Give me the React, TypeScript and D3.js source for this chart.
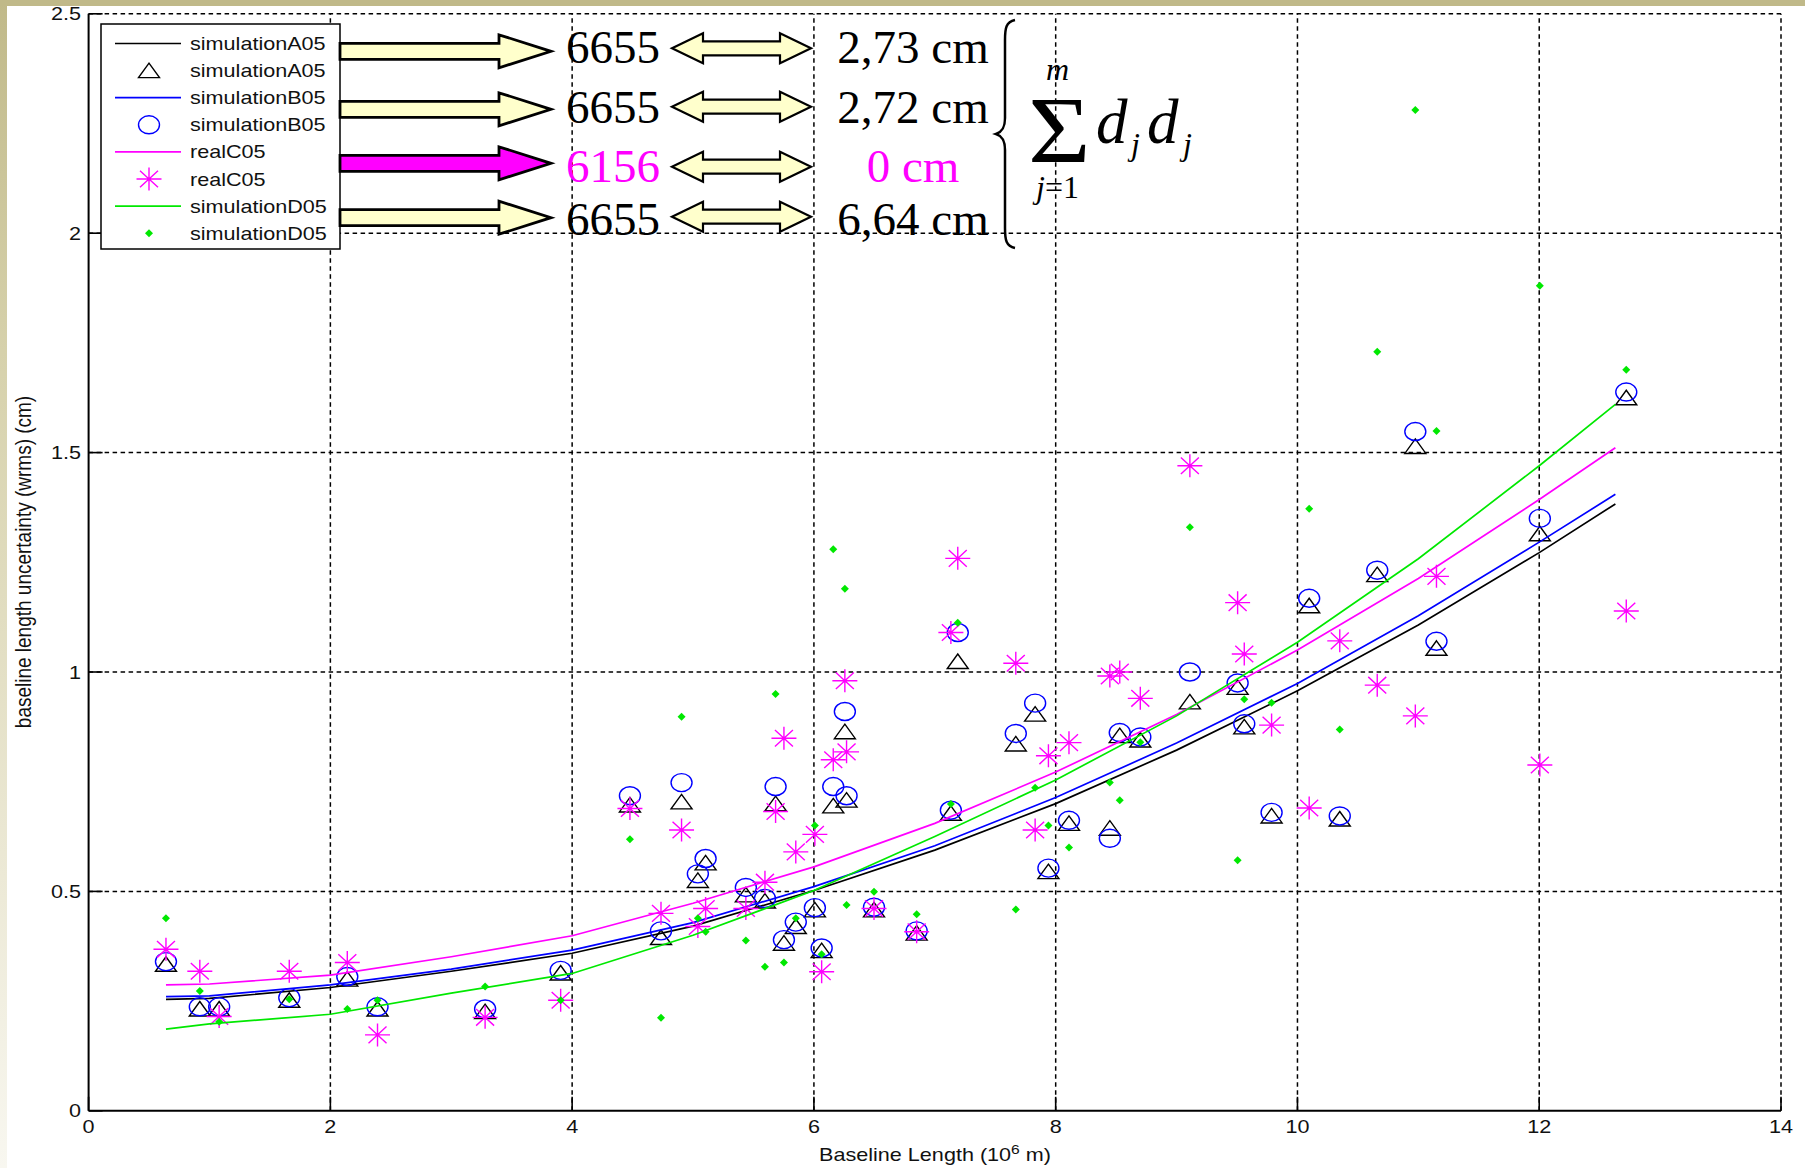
import React from "react";
import * as d3 from "d3";

// baseline lengths (10^6 m), one per station pair
const baselineX = [
  0.64, 0.92, 1.08, 1.66, 2.14,
  2.39, 3.28, 3.905, 4.478, 4.735,
  4.905, 5.04, 5.104, 5.437, 5.595,
  5.683, 5.752, 5.85, 6.008, 6.064,
  6.16, 6.256, 6.27, 6.497, 6.85,
  7.133, 7.19, 7.67, 7.83, 7.94,
  8.11, 8.448, 8.53, 8.7, 9.11,
  9.505, 9.56, 9.786, 10.097, 10.35,
  10.66, 10.975, 11.15, 12.005, 12.72,
];

// wrms (cm) per baseline
const simA05 = [
  0.334, 0.232, 0.232, 0.252, 0.3,
  0.232, 0.226, 0.314, 0.697, 0.395,
  0.704, 0.525, 0.565, 0.492, 0.478,
  0.7, 0.382, 0.42, 0.458, 0.365,
  0.695, 0.864, 0.708, 0.458, 0.405,
  0.678, 1.024, 0.836, 0.904, 0.545,
  0.655, 0.644, 0.855, 0.845, 0.932,
  0.965, 0.875, 0.672, 1.151, 0.665,
  1.222, 1.514, 1.054, 1.315, 1.625,
];
const simB05 = [
  0.34, 0.237, 0.237, 0.258, 0.306,
  0.237, 0.232, 0.32, 0.718, 0.41,
  0.748, 0.54, 0.575, 0.509, 0.484,
  0.739, 0.39, 0.43, 0.463, 0.371,
  0.739, 0.91, 0.718, 0.464, 0.41,
  0.685, 1.09, 0.86, 0.929, 0.553,
  0.662, 0.621, 0.862, 0.852, 1.0,
  0.975, 0.882, 0.68, 1.168, 0.672,
  1.232, 1.548, 1.07, 1.35, 1.638,
];
const realC05 = [
  0.368, 0.318, 0.215, 0.318, 0.338,
  0.173, 0.213, 0.252, 0.689, 0.45,
  0.64, 0.42, 0.461, 0.461, 0.521,
  0.682, 0.849, 0.59, 0.63, 0.317,
  0.8, 0.98, 0.818, 0.461, 0.408,
  1.09, 1.259, 1.02, 0.64, 0.809,
  0.839, 0.991, 1.0, 0.94, 1.47,
  1.158, 1.041, 0.879, 0.69, 1.071,
  0.97, 0.9, 1.218, 0.788, 1.139,
];
const simD05 = [
  0.439, 0.273, 0.203, 0.254, 0.232,
  0.252, 0.283, 0.252, 0.619, 0.212,
  0.898, 0.439, 0.408, 0.388, 0.328,
  0.95, 0.338, 0.439, 0.65, 0.357,
  1.28, 1.19, 0.469, 0.499, 0.448,
  0.699, 1.112, 0.459, 0.736, 0.65,
  0.6, 0.748, 0.708, 0.84, 1.33,
  0.571, 0.938, 0.93, 1.372, 0.869,
  1.73, 2.281, 1.549, 1.88, 1.689,
];

// fitted curves
const fitX = [0.64, 1, 2, 3, 4, 5, 6, 7, 8, 9, 10, 11, 12, 12.63];
const fitA05 = [0.254, 0.256, 0.281, 0.318, 0.359, 0.421, 0.502, 0.594, 0.7, 0.822, 0.957, 1.107, 1.272, 1.383];
const fitB05 = [0.26, 0.262, 0.287, 0.323, 0.366, 0.429, 0.511, 0.604, 0.714, 0.838, 0.974, 1.128, 1.296, 1.405];
const fitC05 = [0.287, 0.289, 0.309, 0.351, 0.399, 0.473, 0.556, 0.655, 0.772, 0.903, 1.05, 1.213, 1.393, 1.511];
const fitD05 = [0.186, 0.198, 0.22, 0.268, 0.313, 0.4, 0.502, 0.625, 0.754, 0.9, 1.068, 1.258, 1.47, 1.61];

const xTicks = [0, 2, 4, 6, 8, 10, 12, 14];
const yTicks = [0, 0.5, 1, 1.5, 2, 2.5];
const yTickLabels = ["0", "0.5", "1", "1.5", "2", "2.5"];

// annotation next to the legend
const solCounts = ["6655", "6655", "6156", "6655"];
const solDist = ["2,73 cm", "2,72 cm", "0 cm", "6,64 cm"];

const SANS = "Liberation Sans, Arial, sans-serif";
const SERIF = "Liberation Serif, Times New Roman, serif";
const MAG = "#ff00ff";
const GRN = "#00e800";

const series = [
  { label: "simulationA05", color: "#000000", fit: fitA05, pts: simA05, marker: "tri" },
  { label: "simulationB05", color: "#0000ff", fit: fitB05, pts: simB05, marker: "circ" },
  { label: "realC05", color: MAG, fit: fitC05, pts: realC05, marker: "star" },
  { label: "simulationD05", color: GRN, fit: fitD05, pts: simD05, marker: "dot" },
];

const marker = (kind: string, cx: number, cy: number, color: string, key: any) => {
  if (kind === "tri")
    return <path key={key} d={`M${cx},${cy - 7.5}L${cx + 10.5},${cy + 7}L${cx - 10.5},${cy + 7}Z`} fill="none" stroke={color} strokeWidth={1.4} />;
  if (kind === "circ")
    return <ellipse key={key} cx={cx} cy={cy} rx={10.5} ry={9} fill="none" stroke={color} strokeWidth={1.4} />;
  if (kind === "star")
    return (
      <path key={key} stroke={color} strokeWidth={1.4}
        d={`M${cx - 12.5},${cy}H${cx + 12.5}M${cx},${cy - 11.5}V${cy + 11.5}M${cx - 9},${cy - 8.3}L${cx + 9},${cy + 8.3}M${cx - 9},${cy + 8.3}L${cx + 9},${cy - 8.3}`} />
    );
  return <path key={key} d={`M${cx},${cy - 4}L${cx + 4},${cy}L${cx},${cy + 4}L${cx - 4},${cy}Z`} fill={color} />;
};

// sans text, slightly stretched like the original screenshot
const Sans = ({ x, y, anchor = "start", size = 18, children }: any) => (
  <text transform={`translate(${x},${y}) scale(1.2,1)`} textAnchor={anchor} fontFamily={SANS} fontSize={size} fill="#111">
    {children}
  </text>
);

const blockArrow = (cy: number) =>
  `M340,${cy - 8}L499,${cy - 8}L499,${cy - 16.5}L551,${cy}L499,${cy + 16.5}L499,${cy + 8}L340,${cy + 8}Z`;
const doubleArrow = (cy: number) =>
  `M672,${cy}L703,${cy - 15}L703,${cy - 7}L780,${cy - 7}L780,${cy - 15}L811,${cy}L780,${cy + 15}L780,${cy + 7}L703,${cy + 7}L703,${cy + 15}Z`;

const App = () => {
  const W = 1805, H = 1168;
  const x = d3.scaleLinear().domain([0, 14]).range([88.6, 1781]);
  const y = d3.scaleLinear().domain([0, 2.5]).range([1110.8, 13.8]);
  const line = d3.line<number>().x((d, i) => x(fitX[i])).y((d) => y(d));

  const blockY = [51.3, 109.3, 163.3, 217.7];
  const dblY = [48.3, 106.7, 166.7, 216.7];
  const textY = [63, 123, 182, 235];

  return (
    <svg width={W} height={H} style={{ position: "absolute", left: 0, top: 0 }}>
      <defs>
        <linearGradient id="edge" x1="0" y1="0" x2="0" y2="1">
          <stop offset="0" stopColor="#c0b989" />
          <stop offset="0.3" stopColor="#d6d1ab" />
          <stop offset="0.75" stopColor="#ece9d6" />
          <stop offset="1" stopColor="#f8f7f0" />
        </linearGradient>
      </defs>
      <rect width={W} height={H} fill="#fff" />
      <rect x={0} y={0} width={7} height={H} fill="url(#edge)" />
      <rect x={0} y={0} width={W} height={6} fill="#c0b989" />

      {/* grid */}
      {xTicks.slice(1).map((t) => (
        <line key={"gx" + t} x1={x(t)} x2={x(t)} y1={y(0)} y2={y(2.5)} stroke="#000" strokeWidth={1.5} strokeDasharray="4.5,3.5" />
      ))}
      {yTicks.slice(1).map((t) => (
        <line key={"gy" + t} x1={x(0)} x2={x(14)} y1={y(t)} y2={y(t)} stroke="#000" strokeWidth={1.5} strokeDasharray="4.5,3.5" />
      ))}

      {/* curves and markers */}
      {series.map((s) => (
        <g key={s.label}>
          <path d={line(s.fit) || ""} fill="none" stroke={s.color} strokeWidth={1.7} />
          {s.pts.map((v, i) => marker(s.marker, x(baselineX[i]), y(v), s.color, i))}
        </g>
      ))}

      {/* axes */}
      <line x1={x(0)} x2={x(0)} y1={y(0)} y2={y(2.5)} stroke="#000" strokeWidth={2} />
      <line x1={x(0)} x2={x(14)} y1={y(0)} y2={y(0)} stroke="#000" strokeWidth={2} />
      {xTicks.map((t) => (
        <g key={"tx" + t}>
          <line x1={x(t)} x2={x(t)} y1={y(0)} y2={y(0) - 14} stroke="#000" strokeWidth={1.6} />
          <Sans x={x(t)} y={1133} anchor="middle">{String(t)}</Sans>
        </g>
      ))}
      {yTicks.map((t, i) => (
        <g key={"ty" + t}>
          <line x1={x(0)} x2={x(0) + 14} y1={y(t)} y2={y(t)} stroke="#000" strokeWidth={1.6} />
          <Sans x={81} y={y(t) + 6.5} anchor="end">{yTickLabels[i]}</Sans>
        </g>
      ))}
      <text transform="translate(935,1161) scale(1.2,1)" textAnchor="middle" fontFamily={SANS} fontSize={18} fill="#111">
        Baseline Length (10<tspan dy={-7} fontSize={13}>6</tspan><tspan dy={7}> m)</tspan>
      </text>
      <text transform="translate(31,562) scale(1.2,1) rotate(-90)" textAnchor="middle" fontFamily={SANS} fontSize={19} fill="#111">
        baseline length uncertainty (wrms) (cm)
      </text>

      {/* legend */}
      <rect x={101} y={24} width={239} height={225} fill="#fff" stroke="#000" strokeWidth={1.5} />
      {series.map((s, k) => {
        const ly = 43.5 + 2 * k * 27.1;
        const my = ly + 27.1;
        return (
          <g key={"lg" + k}>
            <line x1={115} x2={181} y1={ly} y2={ly} stroke={s.color} strokeWidth={1.7} />
            <Sans x={190} y={ly + 6.5}>{s.label}</Sans>
            {marker(s.marker, 149, my, s.color, "m")}
            <Sans x={190} y={my + 6.5}>{s.label}</Sans>
          </g>
        );
      })}

      {/* annotation */}
      {blockY.map((cy, i) => (
        <path key={"ba" + i} d={blockArrow(cy)} fill={i === 2 ? MAG : "#ffffcc"} stroke="#000" strokeWidth={2.8} strokeLinejoin="miter" />
      ))}
      {dblY.map((cy, i) => (
        <path key={"da" + i} d={doubleArrow(cy)} fill="#ffffcc" stroke="#000" strokeWidth={2.2} />
      ))}
      {solCounts.map((t, i) => (
        <text key={"sc" + i} x={566} y={textY[i]} fontFamily={SERIF} fontSize={47} fill={i === 2 ? MAG : "#000"}>{t}</text>
      ))}
      {solDist.map((t, i) => (
        <text key={"sd" + i} x={913} y={textY[i]} textAnchor="middle" fontFamily={SERIF} fontSize={47} fill={i === 2 ? MAG : "#000"}>{t}</text>
      ))}
      <path d="M1015,20C1006,22 1005,28 1005,40L1005,118C1005,128 1002,132 996,134C1002,136 1005,140 1005,150L1005,228C1005,240 1006,246 1015,248"
        fill="none" stroke="#000" strokeWidth={2.5} />
      <text transform="translate(1028,163) scale(1.12,1)" fontFamily={SERIF} fontSize={96}>Σ</text>
      <text x={1046} y={80} fontFamily={SERIF} fontSize={32} fontStyle="italic">m</text>
      <text x={1036} y={198} fontFamily={SERIF} fontSize={32}>
        <tspan fontStyle="italic">j</tspan>=1
      </text>
      <text x={1096} y={143} fontFamily={SERIF} fontSize={63} fontStyle="italic">d</text>
      <text x={1131} y={155} fontFamily={SERIF} fontSize={32} fontStyle="italic">j</text>
      <text x={1147} y={143} fontFamily={SERIF} fontSize={63} fontStyle="italic">d</text>
      <text x={1183} y={155} fontFamily={SERIF} fontSize={32} fontStyle="italic">j</text>
    </svg>
  );
};

export default App;
